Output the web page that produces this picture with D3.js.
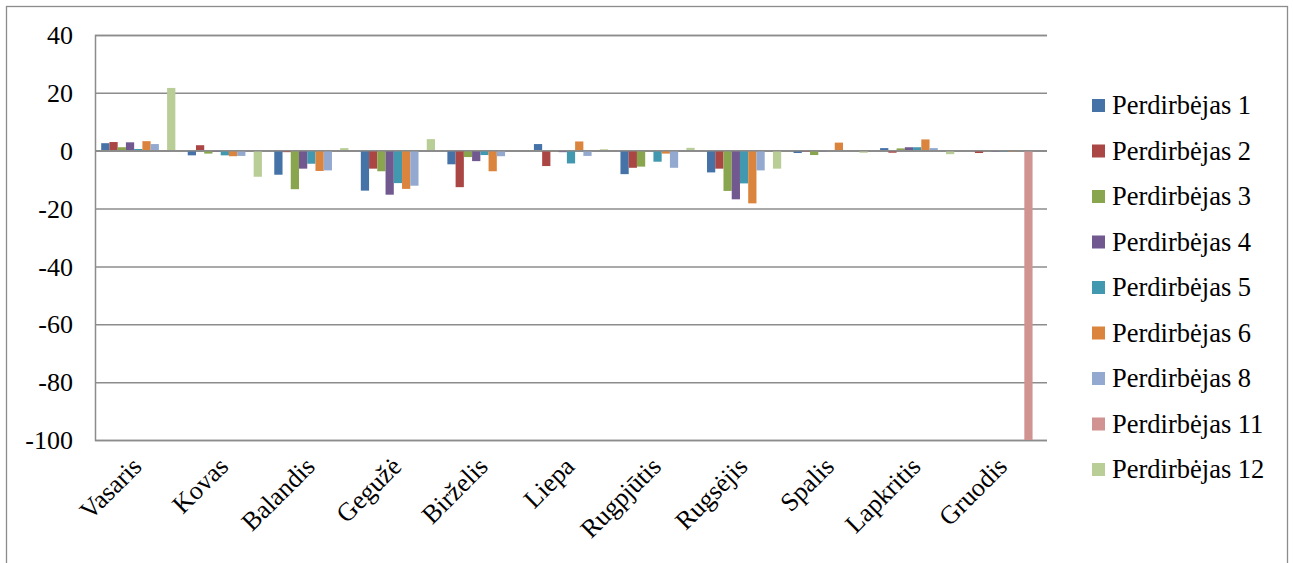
<!DOCTYPE html>
<html>
<head>
<meta charset="utf-8">
<script src="https://cdn.jsdelivr.net/npm/d3@7"></script>
<style>
  body { margin: 0; background: #fff; }
  svg { display: block; }
  svg text { font-family: "Liberation Serif", "Tinos", "Times New Roman", "Times", "Noto Serif", "DejaVu Serif", "Nimbus Roman", "FreeSerif", serif !important; fill: #000; }
</style>
</head>
<body>
<svg id="chart" width="1294" height="563"></svg>
<script>
const months = ["Vasaris", "Kovas", "Balandis", "Gegužė", "Birželis", "Liepa", "Rugpjūtis", "Rugsėjis", "Spalis", "Lapkritis", "Gruodis"];
const seriesNames = ["Perdirbėjas 1", "Perdirbėjas 2", "Perdirbėjas 3", "Perdirbėjas 4", "Perdirbėjas 5", "Perdirbėjas 6", "Perdirbėjas 8", "Perdirbėjas 11", "Perdirbėjas 12"];
const seriesColors = ["#4572A7", "#AA4643", "#89A54E", "#71588F", "#4198AF", "#DB843D", "#93A9CF", "#D19392", "#B9CD96"];
const yTicks = [40, 20, 0, -20, -40, -60, -80, -100];

const p1  = [2.6, -1.6, -8.3, -13.8, -4.7, 2.3, -8.1, -7.5, -0.8, 0.9, 0];
const p2  = [3.0, 1.9, -0.5, -6.2, -12.6, -5.3, -5.9, -6.2, -0.3, -0.7, -0.8];
const p3  = [1.2, -1.0, -13.3, -7.1, -2.2, -0.2, -5.5, -13.9, -1.5, 0.8, 0];
const p4  = [2.9, -0.3, -6.2, -15.2, -3.6, -0.5, 0, -16.8, -0.2, 1.2, -0.3];
const p5  = [0.6, -1.6, -4.5, -11.2, -1.5, -4.4, -3.8, -11.3, 0, 1.2, -0.3];
const p6  = [3.3, -1.9, -7.0, -13.2, -7.1, 3.2, -1.0, -18.2, 2.8, 3.9, -0.3];
const p8  = [2.3, -1.8, -6.8, -12.1, -1.9, -1.8, -5.9, -6.8, 0, 0.9, 0];
const p11 = [0, 0, 0, 0, 0, 0, 0, 0, 0, 0, -100];
const p12 = [21.7, -9.0, 0.9, 4.0, 0, 0.5, 1.0, -6.2, -0.7, -1.2, 0];
const seriesValues = [p1, p2, p3, p4, p5, p6, p8, p11, p12];

const FONT = '"Liberation Serif", "Tinos", "Times New Roman", "Times", "Noto Serif", "DejaVu Serif", serif';
const svg = d3.select("#chart");
const plot = { left: 95, right: 1047, top: 35, bottom: 440 };

// outer frame
svg.append("rect").attr("x", 6.5).attr("y", 6.5).attr("width", 1281).attr("height", 620)
  .attr("fill", "none").attr("stroke", "#8c8c8c").attr("stroke-width", 1.3);

const x0 = d3.scaleBand().domain(months).range([plot.left, plot.right])
  .paddingInner(0.143).paddingOuter(0.0715);
const x1 = d3.scaleBand().domain(seriesNames).range([0, x0.bandwidth()]);
const y = d3.scaleLinear().domain([-100, 40]).range([plot.bottom, plot.top]);

// gridlines + y labels
const yAxis = d3.axisLeft(y).tickValues(yTicks).tickSize(-(plot.right - plot.left)).tickFormat(d => d);
const ga = svg.append("g").attr("transform", `translate(${plot.left},0)`).call(yAxis)
  .attr("font-family", FONT).attr("font-size", 26);
ga.select(".domain").attr("stroke", "#8c8c8c").attr("stroke-width", 1.5);
ga.selectAll(".tick line").attr("stroke", "#8c8c8c").attr("stroke-width", 1.5);
ga.selectAll(".tick text").attr("x", -22).attr("dy", "0.33em").attr("fill", "#000");

// bars
const groups = svg.append("g").selectAll("g").data(months).join("g")
  .attr("transform", d => `translate(${x0(d)},0)`);
groups.selectAll("rect")
  .data((m, mi) => seriesNames.map((s, si) => ({ s, si, v: seriesValues[si][mi] })))
  .join("rect")
  .attr("x", d => x1(d.s))
  .attr("width", x1.bandwidth())
  .attr("y", d => y(Math.max(0, d.v)))
  .attr("height", d => Math.abs(y(d.v) - y(0)))
  .attr("fill", d => seriesColors[d.si]);

// zero line on top
svg.append("line").attr("x1", plot.left).attr("x2", plot.right).attr("y1", y(0)).attr("y2", y(0))
  .attr("stroke", "#8c8c8c").attr("stroke-width", 1.5);

// x labels
const xAxis = d3.axisBottom(x0).tickSize(0).tickSizeOuter(0);
const gx = svg.append("g").attr("transform", `translate(0,${plot.bottom})`).call(xAxis)
  .attr("font-family", FONT).attr("font-size", 26);
gx.select(".domain").remove();
gx.selectAll(".tick text")
  .attr("text-anchor", "end")
  .attr("transform", "translate(5,28) rotate(-45)")
  .attr("y", 0).attr("dy", 0).attr("fill", "#000");

// legend
const legend = svg.append("g").attr("transform", "translate(1092,0)")
  .attr("font-family", FONT).attr("font-size", 26.5);
const li = legend.selectAll("g").data(seriesNames).join("g")
  .attr("transform", (d, i) => `translate(0,${114 + i * 45.5})`);
li.append("rect").attr("x", 0).attr("y", -15).attr("width", 13).attr("height", 13)
  .attr("fill", (d, i) => seriesColors[i]);
li.append("text").attr("x", 20).attr("y", 0).text(d => d);
</script>
</body>
</html>
